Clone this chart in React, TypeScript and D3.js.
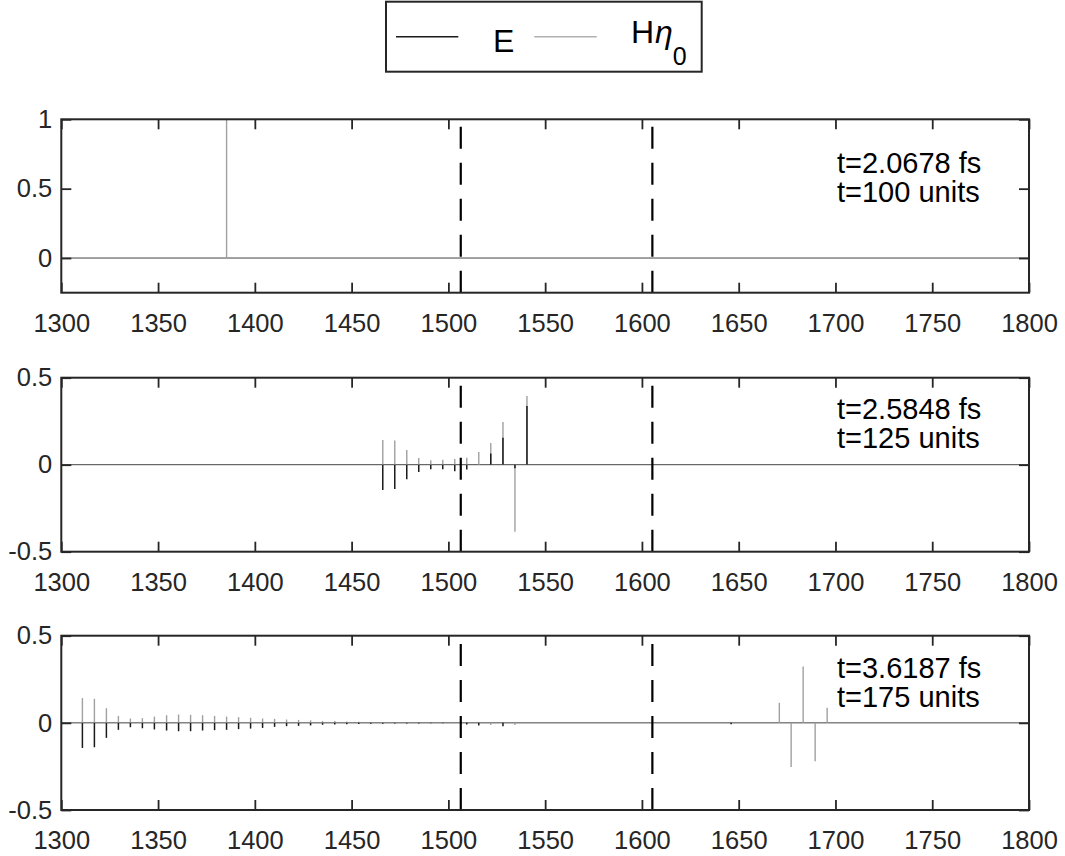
import React, { useEffect, useRef } from "react";
import * as d3 from "d3";

// x axis
const xTicks = [1300, 1350, 1400, 1450, 1500, 1550, 1600, 1650, 1700, 1750, 1800];
const dashX = [1506.4, 1605.4];

// panel 1: t=100 units
const p1X = [1385.4];
const p1E = [0];
const p1H = [1];

// panel 2: t=125 units
const p2X = [1466.1, 1472.3, 1478.5, 1484.7, 1490.9, 1497.1, 1503.3, 1509.5, 1515.7, 1521.9, 1528.2, 1534.4, 1540.6];
const p2E = [-0.145, -0.139, -0.084, -0.042, -0.026, -0.026, -0.038, -0.027, 0, 0.065, 0.155, -0.02, 0.337];
const p2H = [0.142, 0.139, 0.084, 0.038, 0.025, 0.029, 0.033, 0.04, 0.073, 0.124, 0.245, -0.385, 0.395];

// panel 3: t=175 units
const p3X = [1310.9, 1317.1, 1323.3, 1329.5, 1335.7, 1341.9, 1348.1, 1354.4, 1360.6, 1366.8, 1373.0, 1379.2,
  1385.4, 1391.6, 1397.8, 1404.0, 1410.2, 1416.4, 1422.6, 1428.8, 1435.0, 1441.3, 1447.5, 1453.7, 1459.9,
  1466.1, 1472.3, 1478.5, 1484.7, 1490.9, 1497.1, 1509.5, 1515.7, 1521.9, 1528.2, 1534.4,
  1646.1, 1671.0, 1677.1, 1683.3, 1689.5, 1695.7];
const p3E = [-0.144, -0.14, -0.086, -0.04, -0.025, -0.031, -0.038, -0.044, -0.048, -0.048, -0.044, -0.042,
  -0.04, -0.036, -0.033, -0.029, -0.023, -0.019, -0.017, -0.015, -0.011, -0.01, -0.008, -0.006, -0.005,
  -0.005, -0.004, -0.004, -0.004, -0.003, -0.003, -0.01, -0.015, 0, -0.02, 0,
  -0.008, 0, 0, 0, 0, 0];
const p3H = [0.142, 0.138, 0.084, 0.04, 0.025, 0.027, 0.036, 0.044, 0.048, 0.046, 0.044, 0.04,
  0.036, 0.033, 0.029, 0.025, 0.023, 0.019, 0.017, 0.015, 0.011, 0.01, 0.008, 0.006, 0.005,
  0.005, 0.004, 0.004, 0.004, 0.003, 0.003, 0, 0.005, -0.012, 0, -0.012,
  0, 0.115, -0.253, 0.324, -0.22, 0.086];

const timeLabels = [
  ["t=2.0678 fs", "t=100 units"],
  ["t=2.5848 fs", "t=125 units"],
  ["t=3.6187 fs", "t=175 units"],
];

const panels = [
  { top: 119.3, height: 173.4, yDomain: [-0.25, 1], yTicks: [0, 0.5, 1], xs: p1X, e: p1E, h: p1H, labelY: 173 },
  { top: 377.7, height: 174, yDomain: [-0.5, 0.5], yTicks: [-0.5, 0, 0.5], xs: p2X, e: p2E, h: p2H, labelY: 419 },
  { top: 635.7, height: 174.3, yDomain: [-0.5, 0.5], yTicks: [-0.5, 0, 0.5], xs: p3X, e: p3E, h: p3H, labelY: 678 },
];

const AXIS = "#262626";
const E_COLOR = "#1a1a1a";
const H_COLOR = "#a0a0a0";
const FONT = "'Liberation Sans', Arial, Helvetica, sans-serif";

const StemPlots = () => {
  const svgRef = useRef(null);

  useEffect(() => {
    const svg = d3.select(svgRef.current);
    svg.selectAll("*").remove();

    const left = 61.3;
    const right = 1029;

    panels.forEach((p, pi) => {
      const x = d3.scaleLinear().domain([1300, 1800]).range([left, right]);
      const y = d3.scaleLinear().domain(p.yDomain).range([p.top + p.height, p.top]);
      const g = svg.append("g");

      const pts = p.xs.map((xv, i) => ({ x: xv, e: p.e[i], h: p.h[i] }));

      // baseline
      g.append("line")
        .attr("x1", left).attr("x2", right)
        .attr("y1", y(0)).attr("y2", y(0))
        .attr("stroke", "#444").attr("stroke-width", 1);

      // H stems first, E on top
      g.selectAll(".stemH")
        .data(pts.filter((d) => d.h !== 0))
        .enter()
        .append("line")
        .attr("x1", (d) => x(d.x)).attr("x2", (d) => x(d.x))
        .attr("y1", y(0)).attr("y2", (d) => y(d.h))
        .attr("stroke", H_COLOR).attr("stroke-width", 1.4);

      g.selectAll(".stemE")
        .data(pts.filter((d) => d.e !== 0))
        .enter()
        .append("line")
        .attr("x1", (d) => x(d.x)).attr("x2", (d) => x(d.x))
        .attr("y1", y(0)).attr("y2", (d) => y(d.e))
        .attr("stroke", E_COLOR).attr("stroke-width", 1.5);

      // dashed markers
      dashX.forEach((dx) => {
        g.append("line")
          .attr("x1", x(dx)).attr("x2", x(dx))
          .attr("y1", p.top + p.height).attr("y2", p.top)
          .attr("stroke", "#000").attr("stroke-width", 2.2)
          .attr("stroke-dasharray", "22,14");
      });

      // axes, ticks pointing inward
      const bottom = g.append("g")
        .attr("transform", `translate(0,${p.top + p.height})`)
        .call(d3.axisBottom(x).tickValues(xTicks).tickSize(-10).tickSizeOuter(0).tickPadding(21)
          .tickFormat((d) => String(d)));
      const top = g.append("g")
        .attr("transform", `translate(0,${p.top})`)
        .call(d3.axisTop(x).tickValues(xTicks).tickSize(-10).tickSizeOuter(0).tickFormat(() => ""));
      const leftAx = g.append("g")
        .attr("transform", `translate(${left},0)`)
        .call(d3.axisLeft(y).tickValues(p.yTicks).tickSize(-10).tickSizeOuter(0).tickPadding(9)
          .tickFormat((d) => String(d)));
      const rightAx = g.append("g")
        .attr("transform", `translate(${right},0)`)
        .call(d3.axisRight(y).tickValues(p.yTicks).tickSize(-10).tickSizeOuter(0).tickFormat(() => ""));

      [bottom, top, leftAx, rightAx].forEach((a) => {
        a.select(".domain").remove();
        a.selectAll("line").attr("stroke", AXIS).attr("stroke-width", 1.8);
        a.selectAll("text")
          .attr("fill", AXIS)
          .style("font-size", "25.5px")
          .style("font-family", FONT);
      });

      g.append("rect")
        .attr("x", left).attr("y", p.top)
        .attr("width", right - left).attr("height", p.height)
        .attr("fill", "none").attr("stroke", AXIS).attr("stroke-width", 2);

      // time annotation
      const t = g.append("text")
        .style("font-size", "29px").style("font-family", FONT).attr("fill", "#000");
      t.append("tspan").attr("x", 837).attr("y", p.labelY).text(timeLabels[pi][0]);
      t.append("tspan").attr("x", 837).attr("y", p.labelY + 29).text(timeLabels[pi][1]);
    });

    // legend
    const lg = svg.append("g");
    lg.append("rect")
      .attr("x", 386).attr("y", 1.7).attr("width", 315.7).attr("height", 70)
      .attr("fill", "#fff").attr("stroke", AXIS).attr("stroke-width", 2);
    lg.append("line")
      .attr("x1", 396).attr("x2", 458.3).attr("y1", 36.7).attr("y2", 36.7)
      .attr("stroke", E_COLOR).attr("stroke-width", 1.4);
    lg.append("line")
      .attr("x1", 534.3).attr("x2", 596.7).attr("y1", 36.7).attr("y2", 36.7)
      .attr("stroke", "#b0b0b0").attr("stroke-width", 1.4);
    lg.append("text")
      .attr("x", 493).attr("y", 52.3)
      .style("font-size", "32px").style("font-family", FONT).text("E");
    const hl = lg.append("text").style("font-family", FONT);
    hl.append("tspan").attr("x", 631).attr("y", 43.3).style("font-size", "32px").text("H");
    hl.append("tspan").attr("x", 655).attr("y", 43.3).style("font-size", "32px")
      .style("font-style", "italic").text("η");
    hl.append("tspan").attr("x", 672.7).attr("y", 65).style("font-size", "25px").text("0");
  }, []);

  return (
    <svg
      ref={svgRef}
      width={1065}
      height={856}
      style={{ position: "absolute", left: 0, top: 0, background: "#fff" }}
    ></svg>
  );
};

export default function App() {
  return <StemPlots />;
}
